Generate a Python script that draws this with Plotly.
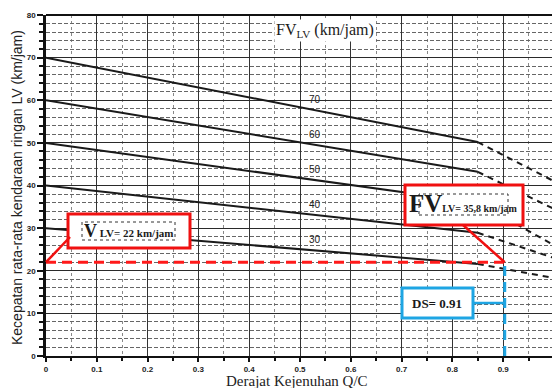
import plotly.graph_objects as go
import numpy as np

# ---- data ----
fv_values = [70, 60, 50, 40, 30]            # free-flow speed curves (km/jam)
speed_at_start = [70.0, 60.0, 50.0, 40.0, 30.0]   # speed at Q/C = 0
speed_at_break = [50.2, 43.2, 36.0, 28.9, 21.6]   # speed at Q/C = 0.85 (end of solid part)
speed_at_end = [41.0, 34.5, 26.0, 23.0, 18.3]     # speed at Q/C = 1.0 (end of dashed part)
qc_start, qc_break, qc_end = 0.0, 0.85, 1.0

v_lv = 22          # V_LV
ds_value = 0.903   # DS position on chart (labelled 0.91)
ds_label = "0.91"
fv_lv_label = "35,8"

x_ticks = [0, 0.1, 0.2, 0.3, 0.4, 0.5, 0.6, 0.7, 0.8, 0.9]
x_tick_text = ["0", "0.1", "0.2", "0.3", "0.4", "0.5", "0.6", "0.7", "0.8", "0.9"]
y_ticks = [0, 10, 20, 30, 40, 50, 60, 70, 80]

# ---- layout geometry (pixels) ----
W_FIG, H_FIG = 552, 388
ML, MR, MT, MB = 46, 0, 15, 32
PW = W_FIG - ML - MR
PH = H_FIG - MT - MB
X_MAX = PW / 508.0
Y_MAX = 80


def px(x):
    return (x - ML) / PW


def py(y):
    return (MT + PH - y) / PH


fig = go.Figure()

# FV curves: solid then dashed
for fv, s0, sb, se in zip(fv_values, speed_at_start, speed_at_break, speed_at_end):
    fig.add_trace(go.Scatter(x=[qc_start, qc_break], y=[s0, sb], mode="lines",
                             line=dict(color="#1a1a1a", width=2), showlegend=False,
                             hoverinfo="skip"))
    fig.add_trace(go.Scatter(x=[qc_break, qc_end], y=[sb, se], mode="lines",
                             line=dict(color="#1a1a1a", width=2, dash="6px,5px"),
                             showlegend=False, hoverinfo="skip"))
    # curve label
    lx = 0.53
    ly = np.interp(lx, [qc_start, qc_break], [s0, sb]) + 2.5
    fig.add_annotation(x=lx, y=ly, text=str(fv), showarrow=False,
                       xanchor="center", yanchor="middle",
                       font=dict(family="Liberation Sans", size=10, color="#222"))

# red dashed V_LV line
fig.add_trace(go.Scatter(x=[0, ds_value], y=[v_lv, v_lv], mode="lines",
                         line=dict(color="#ff1a1a", width=3, dash="10px,6px"),
                         showlegend=False, hoverinfo="skip"))
# blue dashed DS line
fig.add_trace(go.Scatter(x=[ds_value, ds_value], y=[0, v_lv], mode="lines",
                         line=dict(color="#1ea5e3", width=3, dash="10px,6px"),
                         showlegend=False, hoverinfo="skip"))

shapes = []
red = "#f01010"
blue = "#1ea5e3"
boxes = [
    (68, 214, 190, 248, red),
    (405, 185, 523, 225, red),
    (402, 288, 473, 318, blue),
]
for x0, y0, x1, y1, c in boxes:
    shapes.append(dict(type="rect", xref="paper", yref="paper",
                       x0=px(x0), x1=px(x1), y0=py(y1), y1=py(y0),
                       fillcolor="white", line=dict(color=c, width=3), layer="above"))
# inner dotted frames
for x0, y0, x1, y1 in [(82, 222, 175, 240), (419, 194, 508, 215)]:
    shapes.append(dict(type="rect", xref="paper", yref="paper",
                       x0=px(x0), x1=px(x1), y0=py(y1), y1=py(y0),
                       line=dict(color="#333", width=1, dash="dot"), layer="above"))
# connector lines
shapes.append(dict(type="line", xref="paper", yref="paper",
                   x0=px(70), y0=py(237), x1=0.0 / X_MAX, y1=v_lv / Y_MAX,
                   line=dict(color=red, width=2.5), layer="above"))
shapes.append(dict(type="line", xref="paper", yref="paper",
                   x0=px(463), y0=py(225), x1=ds_value / X_MAX, y1=v_lv / Y_MAX,
                   line=dict(color=red, width=2.5), layer="above"))
shapes.append(dict(type="line", xref="paper", yref="paper",
                   x0=px(473), y0=py(303), x1=ds_value / X_MAX, y1=py(303),
                   line=dict(color=blue, width=2.5), layer="above"))
# top border
shapes.append(dict(type="line", xref="paper", yref="paper", x0=0, x1=1, y0=1, y1=1,
                   line=dict(color="#111", width=2)))

fig.update_layout(shapes=shapes)

# box texts
fig.add_annotation(xref="paper", yref="paper", x=px(128), y=py(231),
                   xanchor="center", yanchor="middle",
                   text="<b><span style='font-size:18px'>V</span>"
                        "<span style='font-size:11px'> LV= " + str(v_lv) + " km/jam</span></b>",
                   showarrow=False, font=dict(family="Liberation Serif", size=11, color="#1a1a1a"))
fig.add_annotation(xref="paper", yref="paper", x=px(463), y=py(204),
                   xanchor="center", yanchor="middle",
                   text="<b><span style='font-size:25px'>FV</span>"
                        "<span style='font-size:10px'>LV= " + fv_lv_label + " km/jam</span></b>",
                   showarrow=False, font=dict(family="Liberation Serif", size=10, color="#1a1a1a"))
fig.add_annotation(xref="paper", yref="paper", x=px(437), y=py(303),
                   xanchor="center", yanchor="middle",
                   text="<b>DS= " + ds_label + "</b>",
                   showarrow=False, font=dict(family="Liberation Serif", size=13, color="#1a1a1a"))
# FV_LV header
fig.add_annotation(xref="paper", yref="paper", x=px(325), y=py(31),
                   xanchor="center", yanchor="middle",
                   text="FV<sub>LV</sub> (km/jam)", showarrow=False, bgcolor="white",
                   font=dict(family="Liberation Serif", size=16, color="#1a1a1a"))
# axis titles
fig.add_annotation(xref="paper", yref="paper", x=px(297), y=py(381),
                   xanchor="center", yanchor="middle",
                   text="Derajat Kejenuhan Q/C", showarrow=False,
                   font=dict(family="Liberation Serif", size=15, color="#222"))
fig.add_annotation(xref="paper", yref="paper", x=px(17), y=py(188),
                   xanchor="center", yanchor="middle", textangle=-90,
                   text="Kecepatan rata-rata kendaraan ringan LV (km/jam)", showarrow=False,
                   font=dict(family="Liberation Sans", size=14, color="#222"))

fig.update_xaxes(range=[0, X_MAX], tickvals=x_ticks, ticktext=x_tick_text,
                 automargin=False,
                 showline=True, linecolor="#111", linewidth=2, mirror=False,
                 ticks="outside", ticklen=4, tickcolor="#111", tickwidth=1.5,
                 tickfont=dict(family="Liberation Sans", size=8, color="#222", weight="bold"),
                 showgrid=True, gridcolor="#333", gridwidth=1.2,
                 minor=dict(dtick=0.05, tick0=0, showgrid=True, gridcolor="#888",
                            griddash="dot", gridwidth=1, ticks="outside", ticklen=3,
                            tickcolor="#111"),
                 zeroline=False)
fig.update_yaxes(range=[0, Y_MAX], tickvals=y_ticks,
                 automargin=False,
                 showline=True, linecolor="#111", linewidth=2.5,
                 ticks="outside", ticklen=6, tickcolor="#111", tickwidth=1.5,
                 tickfont=dict(family="Liberation Sans", size=8, color="#222", weight="bold"),
                 showgrid=True, gridcolor="#2a2a2a", gridwidth=1.3,
                 minor=dict(dtick=2, tick0=0, showgrid=True, gridcolor="#666",
                            griddash="4px,2px", gridwidth=1, ticks="outside", ticklen=4,
                            tickcolor="#111"),
                 zeroline=False)

fig.update_layout(width=W_FIG, height=H_FIG,
                  margin=dict(l=ML, r=MR, t=MT, b=MB, pad=0, autoexpand=False),
                  paper_bgcolor="white", plot_bgcolor="white",
                  showlegend=False)

fig.write_html("out.html", config={"displayModeBar": False},
               post_script="document.body.style.margin='0';document.body.style.overflow='hidden';")
